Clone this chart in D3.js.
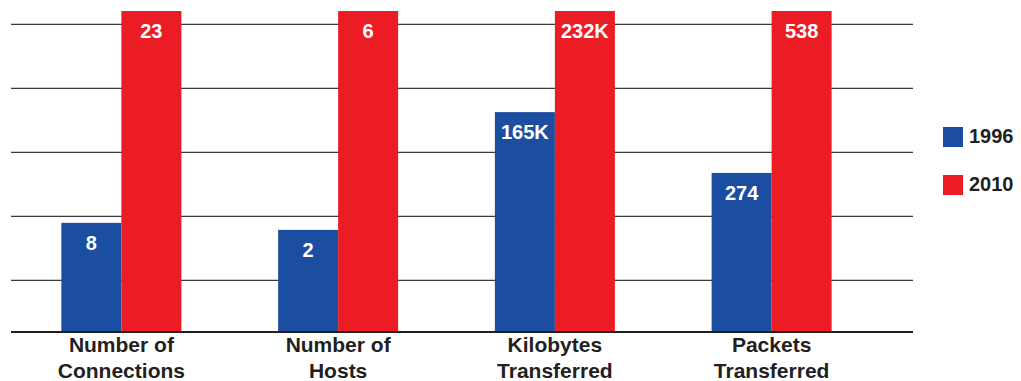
<!DOCTYPE html>
<html>
<head>
<meta charset="utf-8">
<script src="https://cdn.jsdelivr.net/npm/d3@7"></script>
<style>
  body { margin: 0; background: #fff; }
  text { font-family: "Liberation Sans", Arial, sans-serif; font-weight: bold; }
</style>
</head>
<body>
<div id="chart"></div>
<script>
// categories, two-line labels
const categories = ["Number of\nConnections", "Number of\nHosts", "Kilobytes\nTransferred", "Packets\nTransferred"];
const years = ["1996", "2010"];
// bar heights as percent of the 2010 bar
const heights1996 = [33.8, 31.6, 68.4, 49.4];
const heights2010 = [100, 100, 100, 100];
// value labels printed on the bars
const labels1996 = ["8", "2", "165K", "274"];
const labels2010 = ["23", "6", "232K", "538"];
const gridValues = [16, 36, 56, 76, 96];

const colors = { "1996": "#1b4ea1", "2010": "#ec1c24" };
const width = 1021, height = 381;

const svg = d3.select("#chart").append("svg")
    .attr("width", width).attr("height", height);

const y = d3.scaleLinear().domain([0, 100]).range([331, 11]);
const x0 = d3.scaleBand().domain(categories).range([13, 880]);
const x1 = d3.scaleBand().domain(years).range([0, 120]);
const gridLeft = 11, gridRight = 913;

// gridlines
svg.append("g")
    .attr("transform", "translate(" + gridLeft + ",0)")
    .call(d3.axisLeft(y).tickValues(gridValues).tickSize(-(gridRight - gridLeft)).tickFormat(""))
    .call(g => g.select(".domain").remove())
    .call(g => g.selectAll("line").attr("stroke", "#3a3a3a").attr("stroke-width", 1.3));

const rows = [];
categories.forEach(function(c, i) {
    rows.push({ cat: c, year: "1996", h: heights1996[i], label: labels1996[i] });
    rows.push({ cat: c, year: "2010", h: heights2010[i], label: labels2010[i] });
});

const groupOffset = (x0.bandwidth() - 120) / 2;

svg.selectAll("rect.bar").data(rows).enter().append("rect")
    .attr("class", "bar")
    .attr("x", d => x0(d.cat) + groupOffset + x1(d.year))
    .attr("y", d => y(d.h))
    .attr("width", x1.bandwidth())
    .attr("height", d => y(0) - y(d.h))
    .attr("fill", d => colors[d.year]);

svg.selectAll("text.val").data(rows).enter().append("text")
    .attr("class", "val")
    .attr("x", d => x0(d.cat) + groupOffset + x1(d.year) + x1.bandwidth() / 2)
    .attr("y", d => y(d.h) + 27)
    .attr("text-anchor", "middle")
    .attr("fill", "#fff")
    .attr("font-size", 20)
    .text(d => d.label);

// baseline
svg.append("line")
    .attr("x1", gridLeft).attr("x2", gridRight)
    .attr("y1", y(0) + 1).attr("y2", y(0) + 1)
    .attr("stroke", "#231f20").attr("stroke-width", 2.2);

// category labels
const catText = svg.selectAll("text.cat").data(categories).enter().append("text")
    .attr("class", "cat")
    .attr("text-anchor", "middle")
    .attr("fill", "#231f20")
    .attr("font-size", 21)
    .attr("transform", d => "translate(" + (x0(d) + x0.bandwidth() / 2) + ",0)");
catText.selectAll("tspan").data(d => d.split("\n")).enter().append("tspan")
    .attr("x", 0)
    .attr("y", (d, i) => 352 + i * 25.5)
    .text(d => d);

// legend
const legend = svg.selectAll("g.legend").data(years).enter().append("g")
    .attr("class", "legend")
    .attr("transform", (d, i) => "translate(943," + (127 + i * 48) + ")");
legend.append("rect").attr("width", 20).attr("height", 20).attr("fill", d => colors[d]);
legend.append("text").attr("x", 26).attr("y", 15.5)
    .attr("font-size", 20).attr("fill", "#231f20").text(d => d);
</script>
</body>
</html>
